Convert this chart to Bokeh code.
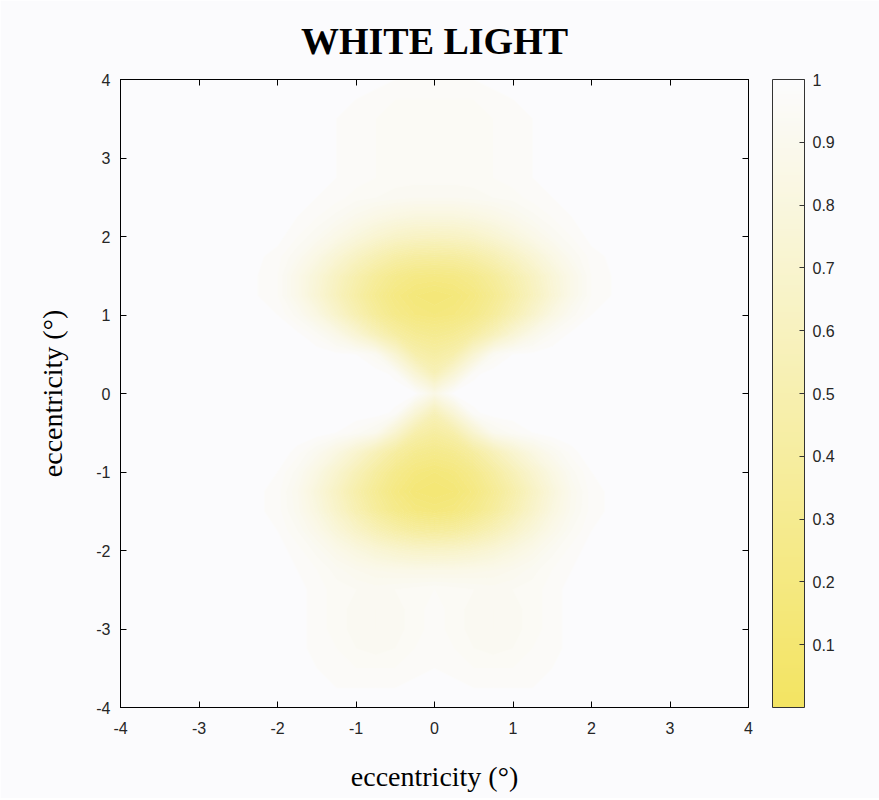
import numpy as np
from bokeh.plotting import figure
from bokeh.models import (LinearColorMapper, ColorBar, FixedTicker, LinearAxis,
                          Range1d)
from bokeh.embed import file_html
from bokeh.resources import INLINE

# grid of read-off values (columns x = -2.5, -2..2 step 0.25, 2.5; rows y = 4 .. -4 step 0.25)
x_grid = [-2.5, -2.0, -1.75, -1.5, -1.25, -1.0, -0.75, -0.5, -0.25, 0.0,
          0.25, 0.5, 0.75, 1.0, 1.25, 1.5, 1.75, 2.0, 2.5]
y_grid_top_down = [4.0, 3.75, 3.5, 3.25, 3.0, 2.75, 2.5, 2.25, 2.0, 1.75, 1.5, 1.25,
                   1.0, 0.75, 0.5, 0.25, 0.0, -0.25, -0.5, -0.75, -1.0, -1.25, -1.5,
                   -1.75, -2.0, -2.25, -2.5, -2.75, -3.0, -3.25, -3.5, -3.75, -4.0]
sensitivity_rows = [
    [1, 1, 1, 1, 1, 1, 0.99, 0.98, 0.98, 0.98, 0.98, 0.98, 0.99, 1, 1, 1, 1, 1, 1],
    [1, 1, 1, 1, 0.99, 0.98, 0.97, 0.96, 0.96, 0.96, 0.96, 0.96, 0.97, 0.98, 0.99, 1, 1, 1, 1],
    [1, 1, 1, 0.99, 0.98, 0.97, 0.96, 0.95, 0.95, 0.95, 0.95, 0.95, 0.96, 0.97, 0.98, 0.99, 1, 1, 1],
    [1, 1, 1, 0.99, 0.98, 0.97, 0.96, 0.95, 0.95, 0.95, 0.95, 0.95, 0.96, 0.97, 0.98, 0.99, 1, 1, 1],
    [1, 1, 1, 0.99, 0.98, 0.97, 0.96, 0.96, 0.96, 0.96, 0.96, 0.96, 0.96, 0.97, 0.98, 0.99, 1, 1, 1],
    [1, 1, 1, 0.99, 0.98, 0.97, 0.96, 0.95, 0.95, 0.95, 0.95, 0.95, 0.96, 0.97, 0.98, 0.99, 1, 1, 1],
    [1, 1, 0.99, 0.98, 0.97, 0.95, 0.94, 0.93, 0.92, 0.92, 0.92, 0.93, 0.94, 0.95, 0.97, 0.98, 0.99, 1, 1],
    [1, 1, 0.98, 0.96, 0.93, 0.89, 0.85, 0.82, 0.8, 0.8, 0.8, 0.82, 0.85, 0.89, 0.93, 0.96, 0.98, 1, 1],
    [1, 0.99, 0.96, 0.92, 0.86, 0.79, 0.72, 0.66, 0.63, 0.62, 0.63, 0.66, 0.72, 0.79, 0.86, 0.92, 0.96, 0.99, 1],
    [1, 0.97, 0.92, 0.84, 0.74, 0.63, 0.53, 0.45, 0.41, 0.4, 0.41, 0.45, 0.53, 0.63, 0.74, 0.84, 0.92, 0.97, 1],
    [1, 0.96, 0.87, 0.76, 0.62, 0.49, 0.37, 0.28, 0.23, 0.22, 0.23, 0.28, 0.37, 0.49, 0.62, 0.76, 0.87, 0.96, 1],
    [1, 0.96, 0.87, 0.74, 0.59, 0.44, 0.31, 0.21, 0.16, 0.14, 0.16, 0.21, 0.31, 0.44, 0.59, 0.74, 0.87, 0.96, 1],
    [1, 0.98, 0.93, 0.83, 0.68, 0.52, 0.37, 0.26, 0.2, 0.18, 0.2, 0.26, 0.37, 0.52, 0.68, 0.83, 0.93, 0.98, 1],
    [1, 1, 0.99, 0.95, 0.87, 0.74, 0.57, 0.42, 0.33, 0.3, 0.33, 0.42, 0.57, 0.74, 0.87, 0.95, 0.99, 1, 1],
    [1, 1, 1, 1, 0.99, 0.98, 0.93, 0.72, 0.48, 0.42, 0.48, 0.72, 0.93, 0.98, 0.99, 1, 1, 1, 1],
    [1, 1, 1, 1, 1, 1, 1, 0.97, 0.75, 0.55, 0.75, 0.97, 1, 1, 1, 1, 1, 1, 1],
    [1, 1, 1, 1, 1, 1, 1, 1, 1, 0.85, 1, 1, 1, 1, 1, 1, 1, 1, 1],
    [1, 1, 1, 1, 1, 1, 1, 0.97, 0.75, 0.55, 0.75, 0.97, 1, 1, 1, 1, 1, 1, 1],
    [1, 1, 1, 1, 0.98, 0.95, 0.9, 0.7, 0.47, 0.4, 0.47, 0.7, 0.9, 0.95, 0.98, 1, 1, 1, 1],
    [1, 1, 0.97, 0.91, 0.82, 0.7, 0.55, 0.4, 0.3, 0.27, 0.3, 0.4, 0.55, 0.7, 0.82, 0.91, 0.97, 1, 1],
    [1, 0.98, 0.93, 0.83, 0.7, 0.55, 0.4, 0.27, 0.19, 0.16, 0.19, 0.27, 0.4, 0.55, 0.7, 0.83, 0.93, 0.98, 1],
    [1, 0.97, 0.9, 0.78, 0.63, 0.47, 0.33, 0.21, 0.14, 0.12, 0.14, 0.21, 0.33, 0.47, 0.63, 0.78, 0.9, 0.97, 1],
    [1, 0.97, 0.91, 0.81, 0.67, 0.52, 0.38, 0.27, 0.2, 0.18, 0.2, 0.27, 0.38, 0.52, 0.67, 0.81, 0.91, 0.97, 1],
    [1, 0.98, 0.94, 0.87, 0.77, 0.66, 0.55, 0.46, 0.4, 0.38, 0.4, 0.46, 0.55, 0.66, 0.77, 0.87, 0.94, 0.98, 1],
    [1, 0.99, 0.97, 0.93, 0.87, 0.81, 0.75, 0.7, 0.67, 0.66, 0.67, 0.7, 0.75, 0.81, 0.87, 0.93, 0.97, 0.99, 1],
    [1, 1, 0.98, 0.96, 0.93, 0.9, 0.88, 0.87, 0.86, 0.86, 0.86, 0.87, 0.88, 0.9, 0.93, 0.96, 0.98, 1, 1],
    [1, 1, 0.99, 0.97, 0.95, 0.94, 0.93, 0.94, 0.95, 0.96, 0.95, 0.94, 0.93, 0.94, 0.95, 0.97, 0.99, 1, 1],
    [1, 1, 0.99, 0.97, 0.95, 0.93, 0.92, 0.93, 0.95, 0.97, 0.95, 0.93, 0.92, 0.93, 0.95, 0.97, 0.99, 1, 1],
    [1, 1, 0.99, 0.97, 0.95, 0.93, 0.92, 0.93, 0.95, 0.97, 0.95, 0.93, 0.92, 0.93, 0.95, 0.97, 0.99, 1, 1],
    [1, 1, 0.99, 0.97, 0.96, 0.94, 0.93, 0.94, 0.96, 0.97, 0.96, 0.94, 0.93, 0.94, 0.96, 0.97, 0.99, 1, 1],
    [1, 1, 1, 0.98, 0.97, 0.96, 0.96, 0.96, 0.97, 0.98, 0.97, 0.96, 0.96, 0.96, 0.97, 0.98, 1, 1, 1],
    [1, 1, 1, 0.99, 0.98, 0.98, 0.98, 0.98, 0.99, 0.99, 0.99, 0.98, 0.98, 0.98, 0.98, 0.99, 1, 1, 1],
    [1, 1, 1, 1, 1, 1, 1, 1, 1, 1, 1, 1, 1, 1, 1, 1, 1, 1, 1],
]
axis_ticks = [-4, -3, -2, -1, 0, 1, 2, 3, 4]
axis_tick_labels = ["-4", "-3", "-2", "-1", "0", "1", "2", "3", "4"]
colorbar_ticks = [0.1, 0.2, 0.3, 0.4, 0.5, 0.6, 0.7, 0.8, 0.9, 1.0]

BG = "#fbfbfd"
low_rgb = np.array([243, 228, 98])
high_rgb = np.array([251, 251, 253])


def mix(t):
    c = (low_rgb + (high_rgb - low_rgb) * t).round().astype(int)
    return "#%02x%02x%02x" % tuple(c)


palette = [mix(t) for t in np.linspace(0, 1, 256)]

# contour bands (the library interpolates the grid inside each cell)
levels = list(np.linspace(0.0, 1.0, 51))
levels[-1] = 1.001
band_colors = [mix((levels[i] + min(levels[i + 1], 1.0)) / 2) for i in range(len(levels) - 1)]
band_colors[-1] = BG
level_colors = [mix(min(l, 1.0)) for l in levels]

z = np.flipud(np.array(sensitivity_rows, dtype=float))
y_grid = y_grid_top_down[::-1]

p = figure(width=879, height=798, output_backend="svg", toolbar_location=None,
           x_range=Range1d(-4, 4), y_range=Range1d(-4, 4),
           min_border_left=120, min_border_right=131, min_border_top=79, min_border_bottom=91,
           background_fill_color=BG, border_fill_color=BG)
p.grid.visible = False
p.outline_line_color = "#000000"
p.outline_line_width = 1

p.contour(x=x_grid, y=y_grid, z=z, levels=levels, fill_color=band_colors,
          line_color=level_colors, line_width=1.0)

mapper = LinearColorMapper(palette=palette, low=0.0, high=1.0)

TICK_FONT = "Liberation Sans"
overrides = {t: s for t, s in zip(axis_ticks, axis_tick_labels)}
for ax in (p.xaxis[0], p.yaxis[0]):
    ax.ticker = FixedTicker(ticks=axis_ticks)
    ax.major_label_overrides = overrides
    ax.major_tick_in = 6
    ax.major_tick_out = 0
    ax.minor_tick_in = 0
    ax.minor_tick_out = 0
    ax.axis_line_color = "#000000"
    ax.major_tick_line_color = "#000000"
    ax.major_label_text_font = TICK_FONT
    ax.major_label_text_font_size = "16px"
    ax.major_label_text_color = "#262626"
    ax.axis_label_text_font = "Liberation Serif"
    ax.axis_label_text_font_size = "28px"
    ax.axis_label_text_font_style = "normal"
    ax.axis_label_text_color = "#000000"

p.xaxis.major_label_standoff = 14
p.yaxis.major_label_standoff = 10
p.xaxis.axis_label = "eccentricity (°)"
p.yaxis.axis_label = "eccentricity (°)"
p.xaxis.axis_label_standoff = 24
p.yaxis.axis_label_standoff = 25

# box ticks on the top and right edges (no labels there)
for side in ("above", "right"):
    a = LinearAxis(ticker=FixedTicker(ticks=axis_ticks), major_tick_in=6, major_tick_out=0,
                   minor_tick_in=0, minor_tick_out=0, major_label_text_color=None,
                   major_label_text_font_size="1px", major_label_standoff=0,
                   axis_line_color="#000000")
    p.add_layout(a, side)

p.title.text = "WHITE LIGHT"
p.title.text_font = "Liberation Serif"
p.title.text_font_size = "38px"
p.title.text_font_style = "bold"
p.title.align = "center"
p.title.text_color = "#000000"
p.title.standoff = 35

cb = ColorBar(color_mapper=mapper, ticker=FixedTicker(ticks=colorbar_ticks),
              width=32, height=628, padding=0, margin=0, location=(24, 0),
              bar_line_color="#333333", major_tick_in=5, major_tick_out=0,
              major_tick_line_color="#333333", minor_tick_line_color=None,
              major_label_text_font=TICK_FONT, major_label_text_font_size="16px",
              major_label_text_color="#262626", label_standoff=8,
              background_fill_color=None, border_line_color=None)
p.add_layout(cb, "right")

open("out.html", "w").write(file_html(p, INLINE))
